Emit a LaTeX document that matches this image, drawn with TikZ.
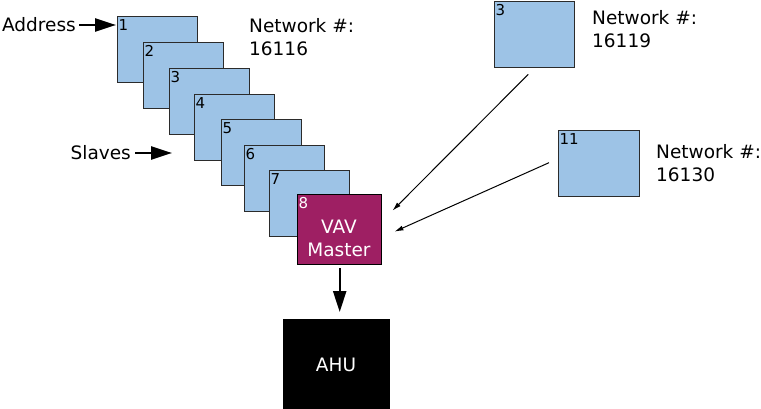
\documentclass[tikz,border=0pt]{standalone}
\usepackage{fontspec}
\setmainfont{DejaVu Sans}
\usetikzlibrary{arrows.meta}
\definecolor{slaveblue}{HTML}{9DC3E6}
\definecolor{masterpurple}{HTML}{9E1F63}
\definecolor{edgegray}{HTML}{2B2B2B}
\tikzset{
  slavebox/.style={draw=edgegray, line width=1.4pt, fill=slaveblue, rectangle, anchor=north west, inner sep=0pt, minimum width=80pt, minimum height=66pt},
  masterbox/.style={draw=black, line width=1.4pt, fill=masterpurple, rectangle, anchor=north west, inner sep=0pt, minimum width=84pt, minimum height=70pt},
  ahubox/.style={fill=black, rectangle, anchor=north west, inner sep=0pt, minimum width=107pt, minimum height=92pt},
  numlabel/.style={anchor=north west, inner xsep=1.5pt, inner ysep=3pt, font=\fontsize{15}{17}\selectfont},
  bigtext/.style={font=\fontsize{18.5}{23}\selectfont, inner sep=0pt},
  bigarrow/.style={line width=2.4pt, -{Triangle[length=21pt,width=13pt]}},
  thinarrow/.style={line width=1pt, -{Latex[length=9pt,width=5pt]}}
}
\begin{document}
\begin{tikzpicture}[x=1pt,y=-1pt]
\useasboundingbox (0,0) rectangle (761,409);
% slave stack
\node[slavebox] (s1) at (117,16) {};
\node[numlabel] (l1) at (s1.north west) {1};
\node[slavebox] (s2) at (143,42) {};
\node[numlabel] (l2) at (s2.north west) {2};
\node[slavebox] (s3) at (169,68) {};
\node[numlabel] (l3) at (s3.north west) {3};
\node[slavebox] (s4) at (194,94) {};
\node[numlabel] (l4) at (s4.north west) {4};
\node[slavebox] (s5) at (221,119) {};
\node[numlabel] (l5) at (s5.north west) {5};
\node[slavebox] (s6) at (244,145) {};
\node[numlabel] (l6) at (s6.north west) {6};
\node[slavebox] (s7) at (269,170) {};
\node[numlabel] (l7) at (s7.north west) {7};
\node[masterbox] (m) at (297,194) {};
\node[numlabel, text=white] (l8) at (m.north west) {8};
\node[bigtext, text=white, align=center] (mt) at (339,238) {VAV\\Master};
% other networks
\node[slavebox] (n3) at (494,1) {};
\node[numlabel] (l3b) at (n3.north west) {3};
\node[slavebox, minimum width=81pt] (n11) at (558,130) {};
\node[numlabel] (l11) at (n11.north west) {11};
% AHU
\node[ahubox] (ahu) at (283,319) {};
\node[bigtext, text=white] (ahut) at (336,365) {AHU};
% labels
\node[bigtext, anchor=east] (addr) at (76,25) {Address};
\node[bigtext, anchor=east] (slv) at (131,153) {Slaves};
\coordinate (slvend) at (172,153);
\node[bigtext, anchor=north west, align=left] (net1) at (249,18) {Network \#:\\16116};
\node[bigtext, anchor=north west, align=left] (net2) at (592,10) {Network \#:\\16119};
\node[bigtext, anchor=north west, align=left] (net3) at (656,144) {Network \#:\\16130};
% arrows
\draw[bigarrow] ([xshift=3pt]addr.east) -- ([xshift=-1pt]s1.north west |- addr.east);
\draw[bigarrow] ([xshift=4pt]slv.east) -- (slvend);
\draw[bigarrow] ([yshift=-3pt]m.south) -- ([yshift=7pt]ahu.north -| m.south);
\draw[thinarrow] ([xshift=-6.5pt,yshift=-6pt]n3.south) -- ([xshift=10pt,yshift=19pt]m.east);
\draw[thinarrow] ([xshift=-9pt,yshift=1pt]n11.west) -- ([xshift=12pt,yshift=-2pt]m.east);
\end{tikzpicture}
\end{document}
